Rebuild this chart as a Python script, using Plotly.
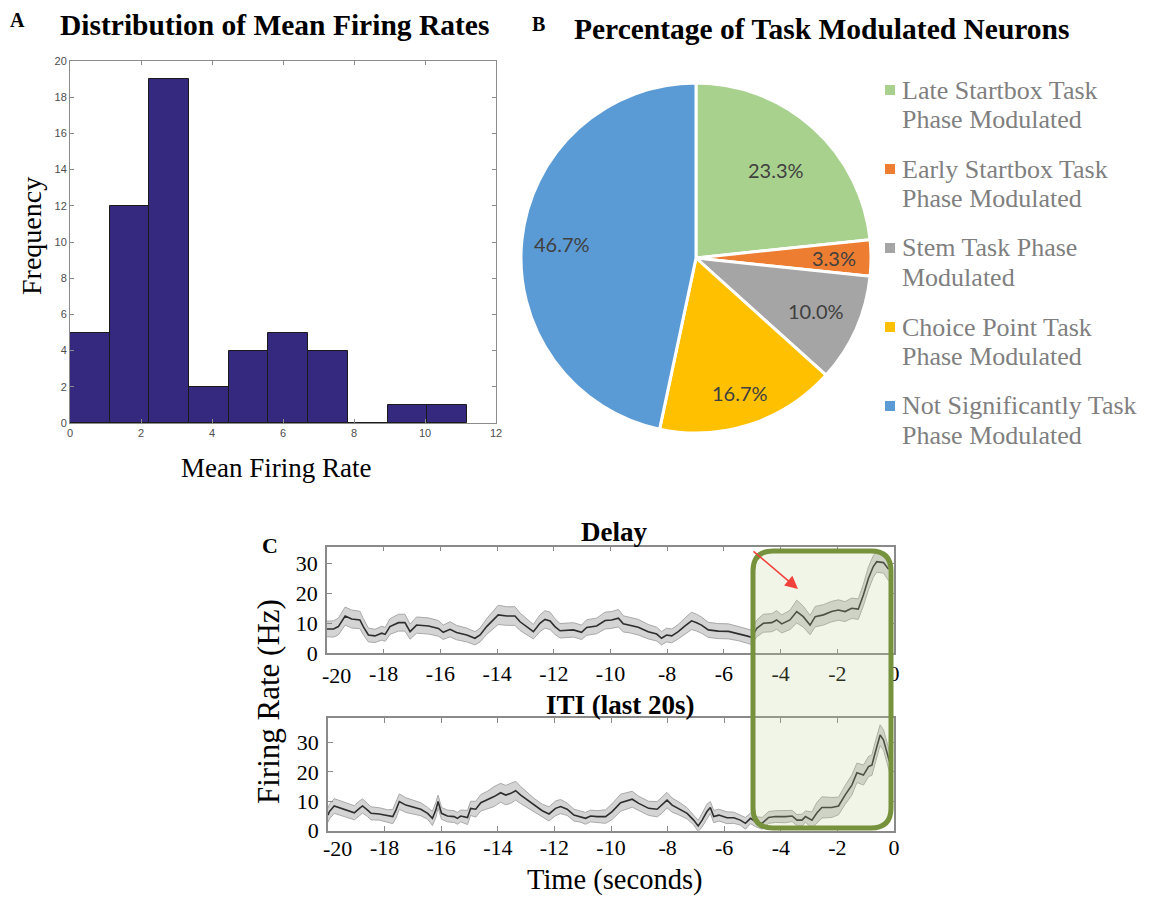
import math
import plotly.graph_objects as go

W, H = 1153, 898

# ---------------- Panel A: histogram of mean firing rates ----------------
hist_counts = [5, 12, 19, 2, 4, 5, 4, 0, 1, 1]
hist_bin_width = 1.118
hist_xticks = [0, 2, 4, 6, 8, 10, 12]
hist_yticks = [0, 2, 4, 6, 8, 10, 12, 14, 16, 18, 20]

# ---------------- Panel B: task-modulated neuron counts ----------------
pie_labels = [
    ["Late Startbox Task", "Phase Modulated"],
    ["Early Startbox Task", "Phase Modulated"],
    ["Stem Task Phase", "Modulated"],
    ["Choice Point Task", "Phase Modulated"],
    ["Not Significantly Task", "Phase Modulated"],
]
pie_counts = [7, 1, 3, 5, 14]
pie_colors = ["#a9d18e", "#ed7d31", "#a5a5a5", "#ffc000", "#5b9bd5"]

# ---------------- Panel C: firing rate traces (mean +/- SEM) ----------------
delay_t = [
    -20.0, -19.77, -19.6, -19.36, -19.13, -18.84, -18.72, -18.54, -18.31, -18.07,
    -17.95, -17.78, -17.48, -17.25, -17.07, -16.84, -16.42, -16.07, -15.9, -15.66,
    -15.43, -15.07, -14.78, -14.6, -14.37, -14.13, -13.96, -13.66, -13.37, -13.19,
    -12.9, -12.72, -12.49, -12.31, -12.13, -11.96, -11.78, -11.31, -11.02, -10.84,
    -10.49, -10.19, -9.96, -9.72, -9.55, -9.31, -9.02, -8.67, -8.37, -8.2,
    -8.02, -7.84, -7.61, -7.37, -7.14, -6.96, -6.79, -6.55, -6.2, -5.84,
    -5.49, -5.2, -5.02, -4.84, -4.61, -4.31, -4.14, -3.96, -3.67, -3.43,
    -3.2, -2.96, -2.78, -2.49, -2.2, -1.96, -1.73, -1.49, -1.26, -1.08,
    -0.9, -0.73, -0.61, -0.37, -0.19,
]
delay_mean = [
    8.1, 8.1, 8.9, 12.4, 11.4, 11.1, 8.9, 6.1, 5.8, 6.7,
    6.3, 8.9, 10.2, 10.2, 7.2, 9.4, 9.1, 8.3, 7.0, 8.0,
    6.9, 6.1, 5.0, 6.1, 8.9, 11.3, 12.8, 12.4, 12.4, 10.5,
    8.3, 7.2, 10.0, 11.3, 10.8, 8.9, 7.5, 7.8, 7.0, 8.6,
    9.1, 10.9, 11.1, 11.7, 9.8, 9.4, 8.7, 7.2, 6.4, 5.0,
    6.1, 5.8, 7.2, 9.1, 10.8, 10.2, 9.4, 7.8, 7.4, 7.3,
    6.6, 5.8, 5.3, 8.3, 10.0, 10.2, 11.1, 9.8, 11.1, 13.9,
    12.2, 9.4, 12.2, 12.8, 13.9, 14.4, 13.9, 15.0, 14.7, 19.4,
    25.0, 28.9, 30.5, 30.2, 28.0,
]
delay_sem = [
    2.6, 2.7, 2.8, 3.0, 3.0, 2.9, 2.7, 2.3, 2.2, 2.3,
    2.3, 2.6, 2.8, 2.8, 2.5, 2.7, 2.7, 2.6, 2.4, 2.5,
    2.4, 2.3, 2.2, 2.3, 2.6, 2.9, 3.2, 3.1, 3.1, 2.9,
    2.6, 2.4, 2.8, 2.9, 2.9, 2.6, 2.4, 2.4, 2.4, 2.6,
    2.6, 2.8, 2.8, 2.9, 2.7, 2.6, 2.6, 2.4, 2.3, 2.2,
    2.3, 2.3, 2.4, 2.7, 2.9, 2.8, 2.7, 2.5, 2.5, 2.5,
    2.4, 2.4, 2.4, 2.8, 3.0, 3.0, 3.1, 3.0, 3.2, 3.8,
    3.5, 3.2, 3.4, 3.4, 3.4, 3.4, 3.3, 3.4, 3.4, 3.6,
    3.8, 3.6, 3.5, 3.5, 3.8,
]

iti_t = [
    -20.0, -19.95, -19.78, -19.54, -19.3, -19.07, -18.89, -18.78, -18.6, -18.48,
    -18.19, -17.89, -17.71, -17.6, -17.48, -17.25, -16.95, -16.72, -16.48, -16.31,
    -16.19, -16.11, -15.99, -15.78, -15.54, -15.43, -15.31, -15.07, -14.96, -14.78,
    -14.6, -14.37, -14.13, -13.9, -13.72, -13.54, -13.37, -13.19, -12.96, -12.72,
    -12.43, -12.19, -11.96, -11.78, -11.55, -11.31, -11.08, -10.9, -10.72, -10.49,
    -10.19, -9.96, -9.66, -9.25, -9.02, -8.67, -8.37, -8.2, -8.02, -7.84,
    -7.61, -7.31, -7.08, -6.92, -6.78, -6.61, -6.49, -6.37, -6.19, -5.9,
    -5.66, -5.43, -5.25, -5.07, -4.9, -4.66, -4.43, -4.19, -3.84, -3.6,
    -3.43, -3.25, -3.13, -2.9, -2.72, -2.55, -2.2, -1.96, -1.73, -1.49,
    -1.31, -1.08, -0.9, -0.78, -0.67, -0.49, -0.37, -0.25, -0.16,
]
iti_mean = [
    5.3, 6.5, 8.4, 7.6, 6.8, 6.1, 7.6, 8.4, 7.0, 5.9,
    5.7, 5.0, 4.8, 7.0, 9.9, 8.7, 7.9, 7.3, 5.9, 4.2,
    7.0, 9.9, 5.9, 5.0, 4.8, 4.2, 5.0, 4.5, 7.6, 7.3,
    9.5, 10.4, 11.6, 12.9, 12.1, 12.7, 13.6, 12.1, 10.4, 8.7,
    6.8, 5.7, 7.6, 8.2, 7.3, 5.3, 4.8, 4.2, 5.0, 4.8,
    4.8, 6.5, 9.5, 10.7, 9.3, 7.6, 7.3, 8.7, 10.4, 8.7,
    7.6, 5.9, 3.6, 1.6, 3.6, 6.5, 7.9, 4.8, 5.3, 4.4,
    4.4, 3.6, 2.5, 4.2, 3.1, 2.5, 4.5, 4.8, 4.8, 5.0,
    3.6, 3.6, 4.8, 3.6, 6.1, 7.9, 7.9, 8.4, 12.1, 15.5,
    19.7, 18.9, 21.8, 22.3, 26.3, 32.5, 30.8, 26.9, 23.5,
]
iti_sem = [
    2.4, 2.5, 2.5, 2.4, 2.3, 2.4, 2.5, 2.4, 2.2, 2.2,
    2.1, 2.1, 2.4, 2.8, 2.6, 2.5, 2.4, 2.2, 2.0, 2.4,
    2.6, 2.2, 2.0, 2.0, 2.0, 2.0, 2.0, 2.4, 2.4, 2.7,
    2.8, 3.0, 3.4, 3.2, 3.3, 3.4, 3.2, 2.9, 2.6, 2.3,
    2.2, 2.4, 2.5, 2.4, 2.1, 2.0, 1.9, 2.0, 2.0, 2.0,
    2.3, 2.7, 2.9, 2.7, 2.4, 2.4, 2.6, 2.8, 2.6, 2.4,
    2.2, 1.9, 1.6, 1.9, 2.3, 2.5, 2.0, 2.1, 2.0, 2.0,
    1.9, 1.7, 2.0, 1.8, 1.7, 2.0, 2.0, 2.0, 2.1, 1.9,
    1.9, 2.0, 1.9, 2.8, 3.6, 3.6, 3.4, 3.0, 3.2, 3.4,
    3.3, 3.4, 3.4, 3.5, 3.6, 3.5, 3.5, 3.5, 3.5,
]

time_ticks = [-20, -18, -16, -14, -12, -10, -8, -6, -4, -2, 0]
rate_ticks = [0, 10, 20, 30]

SERIF = "Liberation Serif"
SANS = "Liberation Sans"


def fx(x):
    """pixel column -> paper x"""
    return x / W


def fy(y):
    """pixel row -> paper y"""
    return 1 - y / H


fig = go.Figure()

# ---- histogram
bin_centers = [hist_bin_width * (i + 0.5) for i in range(len(hist_counts))]
fig.add_trace(go.Bar(
    x=bin_centers, y=hist_counts, width=hist_bin_width,
    marker=dict(color="#34297f", line=dict(color="#1a1a1a", width=1)),
    xaxis="x", yaxis="y", hoverinfo="skip",
))

# ---- pie
fig.add_trace(go.Pie(
    values=pie_counts, labels=[" ".join(l) for l in pie_labels],
    marker=dict(colors=pie_colors, line=dict(color="white", width=3)),
    sort=False, direction="clockwise", rotation=0,
    textinfo="none", hoverinfo="skip",
    domain=dict(x=[fx(521), fx(871)], y=[fy(433), fy(83)]),
))


def band(t, m, s, xa, ya):
    upper = [a + b for a, b in zip(m, s)]
    lower = [a - b for a, b in zip(m, s)]
    fig.add_trace(go.Scatter(x=t, y=lower, mode="lines",
                             line=dict(color="#a8a8a8", width=1),
                             xaxis=xa, yaxis=ya, hoverinfo="skip"))
    fig.add_trace(go.Scatter(x=t, y=upper, mode="lines", fill="tonexty",
                             fillcolor="#d4d4d4",
                             line=dict(color="#a8a8a8", width=1),
                             xaxis=xa, yaxis=ya, hoverinfo="skip"))
    fig.add_trace(go.Scatter(x=t, y=m, mode="lines",
                             line=dict(color="#2e2e2e", width=1.6),
                             xaxis=xa, yaxis=ya, hoverinfo="skip"))


band(delay_t, delay_mean, delay_sem, "x2", "y2")
band(iti_t, iti_mean, iti_sem, "x3", "y3")

hist_axis = dict(
    showline=True, mirror="ticks", linecolor="#8c8c8c", linewidth=1,
    ticks="inside", ticklen=4, tickcolor="#8c8c8c",
    tickfont=dict(family=SANS, size=11, color="#4d4d4d"),
    showgrid=False, zeroline=False, automargin=False,
)
ts_axis = dict(
    showline=True, mirror="ticks", linecolor="#8a8a8a", linewidth=1.5,
    ticks="inside", ticklen=5, tickcolor="#8a8a8a",
    tickfont=dict(family=SERIF, size=22, color="black"),
    showgrid=False, zeroline=False, automargin=False,
)
# the first time label is drawn separately, nudged right of the corner
time_labels = ["" if v == time_ticks[0] else str(v) for v in time_ticks]

fig.update_layout(
    width=W, height=H,
    margin=dict(l=0, r=0, t=0, b=0, autoexpand=False),
    paper_bgcolor="white", plot_bgcolor="white",
    showlegend=False,
    bargap=0,
    xaxis=dict(domain=[fx(70), fx(496)], range=[0, 12], tickvals=hist_xticks,
               anchor="y", **hist_axis),
    yaxis=dict(domain=[fy(423), fy(61)], range=[0, 20], tickvals=hist_yticks,
               anchor="x", **hist_axis),
    xaxis2=dict(domain=[fx(327), fx(894)], range=[-20, 0], tickvals=time_ticks,
                ticktext=time_labels, anchor="y2", **ts_axis),
    yaxis2=dict(domain=[fy(653.3), fy(546.7)], range=[0, 35.5], tickvals=rate_ticks,
                anchor="x2", ticklabelstandoff=3, **ts_axis),
    xaxis3=dict(domain=[fx(328), fx(894)], range=[-20, 0], tickvals=time_ticks,
                ticktext=time_labels, anchor="y3", ticklabelstandoff=-4, **ts_axis),
    yaxis3=dict(domain=[fy(830.7), fy(718.3)], range=[0, 38.2], tickvals=rate_ticks,
                anchor="x3", ticklabelstandoff=3, **ts_axis),
)

ann = []


def text(x, y, s, size, color="black", family=SERIF, angle=0, xanchor="center", pad=1):
    ann.append(dict(x=fx(x), y=fy(y), xref="paper", yref="paper", text=s,
                    showarrow=False, xanchor=xanchor, yanchor="middle",
                    textangle=angle, borderpad=pad,
                    font=dict(family=family, size=size, color=color)))


# first time label of each trace panel
for xa, ylab in (("x2", 675), ("x3", 848)):
    ann.append(dict(x=time_ticks[0], xref=xa, y=fy(ylab), yref="paper",
                    text=str(time_ticks[0]), showarrow=False, xanchor="center",
                    yanchor="middle", xshift=9,
                    font=dict(family=SERIF, size=22, color="black")))

# panel letters and titles
text(17, 20, "<b>A</b>", 20)
text(538, 24, "<b>B</b>", 20)
text(270, 545, "<b>C</b>", 22)
text(274, 25, "<b>Distribution of Mean Firing Rates</b>", 29.5)
text(822, 29, "<b>Percentage of Task Modulated Neurons</b>", 29.5)
text(31, 236, "Frequency", 28, angle=-90)
text(276, 468, "Mean Firing Rate", 27)
text(614, 532, "<b>Delay</b>", 27)
text(620, 705, "<b>ITI (last 20s)</b>", 27)
text(614, 879.5, "Time (seconds)", 28.5, pad=0)
text(268, 702, "Firing Rate (Hz)", 31, angle=-90)

# pie percentage labels placed along each slice's mid-angle
cx, cy, R = 696, 258, 175
label_radius = [0.68, 0.79, 0.75, 0.81, 0.77]
total = sum(pie_counts)
start = 0.0
for c, k in zip(pie_counts, label_radius):
    frac = c / total
    mid = (start + frac / 2) * 2 * math.pi
    lx = cx + R * k * math.sin(mid)
    ly = cy - R * k * math.cos(mid)
    text(lx, ly, f"{100 * frac:.1f}%", 20, color="#404040", family="Lato")
    start += frac

# legend for the pie
shapes = []
for i, (lines, col) in enumerate(zip(pie_labels, pie_colors)):
    y0 = 90 + 79 * i
    shapes.append(dict(type="rect", xref="paper", yref="paper",
                       x0=fx(885), x1=fx(895), y0=fy(y0 + 5), y1=fy(y0 - 5),
                       fillcolor=col, line=dict(width=0)))
    for j, ln in enumerate(lines):
        text(900, y0 + 29.5 * j, ln, 26, color="#7f7f7f", xanchor="left")

# highlighted window on the last seconds
x0, x1, y0, y1, r = 753, 891, 551, 828, 20
pts = [
    ("M", [(x0 + r, y0)]), ("L", [(x1 - r, y0)]), ("Q", [(x1, y0), (x1, y0 + r)]),
    ("L", [(x1, y1 - r)]), ("Q", [(x1, y1), (x1 - r, y1)]), ("L", [(x0 + r, y1)]),
    ("Q", [(x0, y1), (x0, y1 - r)]), ("L", [(x0, y0 + r)]), ("Q", [(x0, y0), (x0 + r, y0)]),
]
path = " ".join(cmd + " " + " ".join(f"{fx(a):.5f},{fy(b):.5f}" for a, b in p) for cmd, p in pts) + " Z"
shapes.append(dict(type="path", xref="paper", yref="paper", path=path,
                   fillcolor="rgba(190,210,150,0.22)",
                   line=dict(color="#76923c", width=5), layer="above"))

# arrow pointing at the pre-choice ramp
ann.append(dict(x=fx(798), y=fy(589), xref="paper", yref="paper", ax=-46, ay=-39,
                text="", showarrow=True, arrowhead=2, arrowsize=1.6, arrowwidth=1.6,
                arrowcolor="#f0413a", standoff=0))

fig.update_layout(annotations=ann, shapes=shapes)
fig.write_html("out.html")
